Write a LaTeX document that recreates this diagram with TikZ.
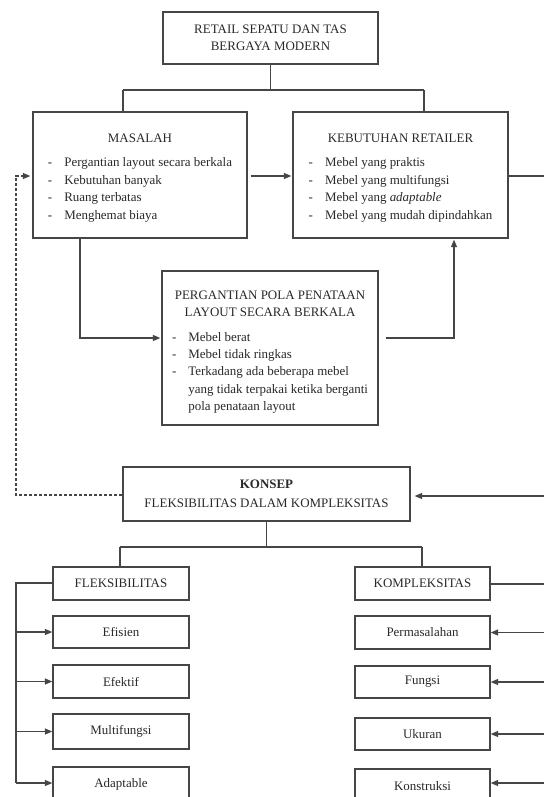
\documentclass[tikz,border=0pt]{standalone}
\usepackage{fontspec}
\setmainfont{Liberation Serif}
\usetikzlibrary{arrows.meta}
\definecolor{ln}{RGB}{70,70,70}
\definecolor{tx}{RGB}{40,40,40}
\newcommand{\hd}[1]{\multicolumn{2}{@{}c@{}}{#1}}
\newcommand{\dn}[1]{\raisebox{-2.5bp}[\height][\depth]{#1}}
\begin{document}
\begin{tikzpicture}[x=1bp,y=-1bp,
  box/.style={draw=ln,line width=1.3bp,inner sep=0pt,text=tx,align=center,
    font=\fontsize{13}{17.5}\selectfont},
  conn/.style={draw=ln,line width=1.3bp},
  arr/.style={conn,-{Triangle[length=7.5bp,width=6bp]}},
  darr/.style={arr,dash pattern=on 3bp off 2bp}]
\useasboundingbox (0,0) rectangle (544,797);

% boxes
\node[box,minimum width=215bp,minimum height=52bp] (top) at (270.5,38)
  {RETAIL SEPATU DAN TAS\\BERGAYA MODERN};
\node[box,minimum width=214bp,minimum height=126bp] (mas) at (140,175)
  {\dn{\begin{tabular}{@{}l@{\hspace{12bp}}l@{}}
   \hd{MASALAH}\\[6.5bp]
   - & Pergantian layout secara berkala\\
   - & Kebutuhan banyak\\
   - & Ruang terbatas\\
   - & Menghemat biaya
   \end{tabular}}};
\node[box,minimum width=215bp,minimum height=126bp] (keb) at (400.5,175)
  {\dn{\begin{tabular}{@{}l@{\hspace{12bp}}l@{}}
   \hd{KEBUTUHAN RETAILER}\\[6.5bp]
   - & Mebel yang praktis\\
   - & Mebel yang multifungsi\\
   - & Mebel yang \textit{adaptable}\\
   - & Mebel yang mudah dipindahkan
   \end{tabular}}};
\node[box,minimum width=216bp,minimum height=154bp] (perg) at (270,348)
  {\raisebox{-3.5bp}[\height][\depth]{\begin{tabular}{@{}l@{\hspace{12bp}}l@{}}
   \hd{PERGANTIAN POLA PENATAAN}\\
   \hd{LAYOUT SECARA BERKALA}\\[7bp]
   - & Mebel berat\\
   - & Mebel tidak ringkas\\
   - & Terkadang ada beberapa mebel\\
     & yang tidak terpakai ketika berganti\\
     & pola penataan layout
   \end{tabular}}};
\node[box,minimum width=287bp,minimum height=54bp,
  font=\fontsize{13}{19}\selectfont] (konsep) at (266.5,494)
  {\textbf{KONSEP}\\FLEKSIBILITAS DALAM KOMPLEKSITAS};

\node[box,minimum width=136bp,minimum height=33bp] (flek) at (121,583.5) {FLEKSIBILITAS};
\node[box,minimum width=136bp,minimum height=32bp] (efis) at (121,632) {Efisien};
\node[box,minimum width=136bp,minimum height=33bp] (efek) at (121,681.5) {Efektif};
\node[box,minimum width=136bp,minimum height=35bp] (multi) at (121,731.5) {Multifungsi};
\node[box,minimum width=136bp,minimum height=34bp] (adapt) at (121,784) {Adaptable};

\node[box,minimum width=135bp,minimum height=33bp] (komp) at (422.5,583.5) {KOMPLEKSITAS};
\node[box,minimum width=135bp,minimum height=33bp] (perm) at (422.5,632.5) {Permasalahan};
\node[box,minimum width=135bp,minimum height=32bp] (fung) at (422.5,682) {Fungsi};
\node[box,minimum width=135bp,minimum height=32bp] (ukur) at (422.5,734) {Ukuran};
\node[box,minimum width=135bp,minimum height=34bp] (kons) at (422.5,786) {Konstruksi};

% coordinates
\coordinate (j1) at (270.5,90);
\coordinate (j1l) at (123,90);
\coordinate (j1r) at (424,90);
\coordinate (c1) at (80,338);
\coordinate (c2) at (454,338);
\coordinate (d1) at (16,495);
\coordinate (d2) at (16,176);
\coordinate (eR1) at (544,176);
\coordinate (eR2) at (544,496);
\coordinate (eR3) at (544,584);
\coordinate (j2) at (266.5,547);
\coordinate (j2l) at (120,547);
\coordinate (j2r) at (422,547);
\coordinate (L) at (16,583);
\coordinate (B) at (16,783);

% top tree
\draw[conn] (top.south) -- (j1);
\draw[conn] (j1l) -- (j1r);
\draw[conn] (j1l) -- (j1l |- mas.north);
\draw[conn] (j1r) -- (j1r |- keb.north);

% masalah -> kebutuhan
\draw[arr,shorten <=3bp,shorten >=1bp] (mas.east |- eR1) -- (keb.west |- eR1);
\draw[conn] (keb.east |- eR1) -- (eR1);

% masalah -> pergantian -> kebutuhan
\draw[arr,shorten >=1bp] (c1 |- mas.south) -- (c1) -- (perg.west |- c1);
\draw[arr,shorten <=7bp,shorten >=1bp] (perg.east |- c2) -- (c2) -- (c2 |- keb.south);

% dashed feedback
\draw[darr,shorten >=2bp] (konsep.west |- d1) -- (d1) -- (d2) -- (mas.west |- d2);

% right into konsep
\draw[arr,shorten >=4bp] (eR2) -- (konsep.east |- eR2);

% konsep tree
\draw[conn] (konsep.south) -- (j2);
\draw[conn] (j2l) -- (j2r);
\draw[conn] (j2l) -- (j2l |- flek.north);
\draw[conn] (j2r) -- (j2r |- komp.north);

% fleksibilitas branch
\draw[conn] (flek.west |- L) -- (L) -- (B);
\draw[arr] (L |- efis.west) -- (efis.west);
\draw[arr] (L |- efek.west) -- (efek.west);
\draw[arr] (L |- multi.west) -- (multi.west);
\draw[arr] (B) -- (adapt.west |- B);

% kompleksitas branch
\draw[conn] (komp.east |- eR3) -- (eR3);
\draw[arr] (eR3 |- perm.east) -- (perm.east);
\draw[arr] (eR3 |- fung.east) -- (fung.east);
\draw[arr] (eR3 |- ukur.east) -- (ukur.east);
\draw[arr] (eR3 |- B) -- (kons.east |- B);
\end{tikzpicture}
\end{document}
